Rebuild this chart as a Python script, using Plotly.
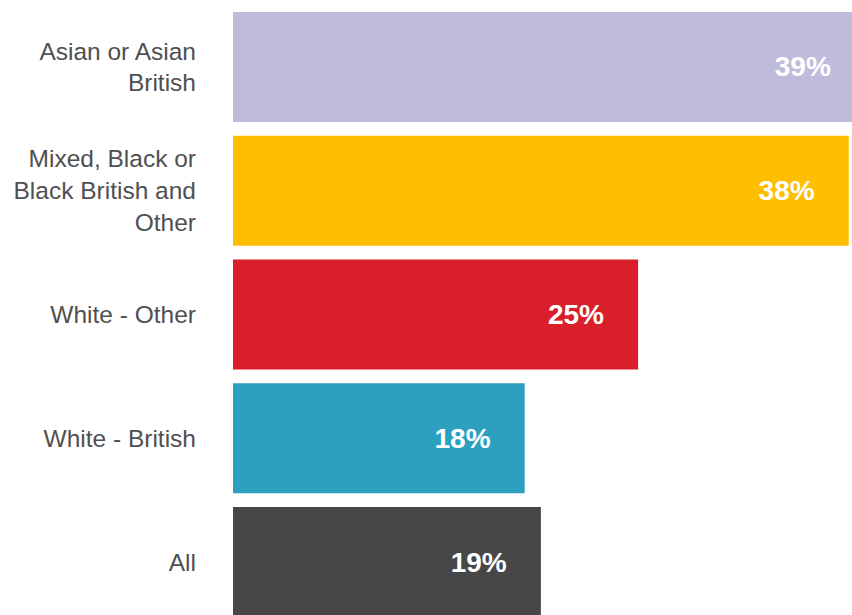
import plotly.graph_objects as go

# Share of each ethnic group (percent)
categories = [
    "Asian or Asian<br>British",
    "Mixed, Black or<br>Black British and<br>Other",
    "White - Other",
    "White - British",
    "All",
]
values = [39, 38, 25, 18, 19]
colors = ["#BFBBDB", "#FFBE00", "#D91F2A", "#2CA0BE", "#474747"]

PAD = "\u00a0" * 4  # keeps the value labels away from the bar ends

fig = go.Figure(
    go.Bar(
        x=values,
        y=categories,
        orientation="h",
        marker=dict(color=colors, line=dict(width=0)),
        text=[f"{v}%{PAD}" for v in values],
        textposition="inside",
        insidetextanchor="end",
        textfont=dict(family="Liberation Sans, Arial, sans-serif", size=28, color="white", weight="bold"),
        hoverinfo="skip",
    )
)

fig.update_layout(
    width=852,
    height=615,
    margin=dict(l=233, r=0, t=0, b=0),
    plot_bgcolor="white",
    paper_bgcolor="white",
    bargap=0.111,
    showlegend=False,
    uniformtext=dict(mode=False),
)

fig.update_xaxes(range=[0, 38.2], visible=False, fixedrange=True)
fig.update_yaxes(
    type="category",
    categoryorder="array",
    categoryarray=categories,
    range=[4.428, -0.541],
    showgrid=False,
    showline=False,
    zeroline=False,
    ticks="",
    ticklabelstandoff=36,
    tickfont=dict(family="Liberation Sans, Arial, sans-serif", size=24.5, color="#505050"),
    fixedrange=True,
)

fig.write_html("out.html", config={"displayModeBar": False})
